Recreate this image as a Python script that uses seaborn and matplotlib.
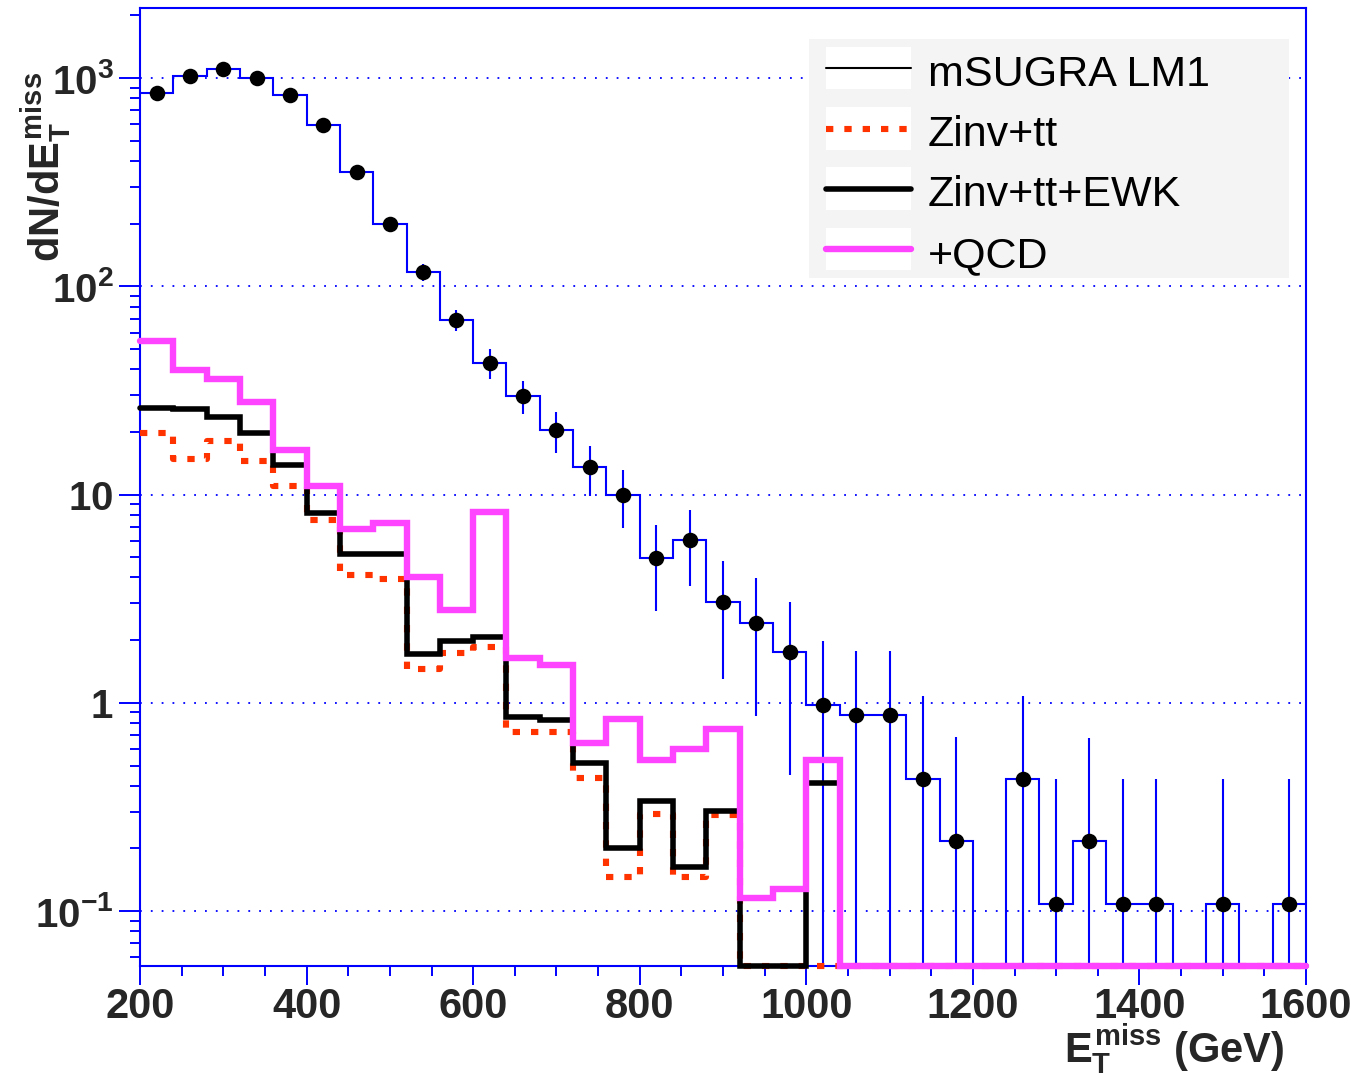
import numpy as np
import pandas as pd
import matplotlib
matplotlib.use("Agg")
import matplotlib.pyplot as plt
import seaborn as sns
from matplotlib.lines import Line2D
from matplotlib.patches import Rectangle
from matplotlib.ticker import LogLocator, NullFormatter, MultipleLocator, FixedLocator, FixedFormatter

# ---------------- data ----------------
bin_edges = list(range(200, 1601, 40))
bin_centers = np.array(bin_edges[:-1]) + 20

lm1_values = [851, 1022, 1105, 1000, 832, 597, 354, 200, 117, 69,
              42.9, 29.7, 20.4, 13.5, 10.0, 4.97, 6.03, 3.05, 2.41, 1.75,
              0.98, 0.87, 0.87, 0.433, 0.218, 0, 0.433, 0.108, 0.218, 0.108,
              0.108, 0, 0.108, 0, 0.108]
lm1_errors = [29, 32, 33, 32, 29, 24, 19, 14, 11, 8,
              7, 5.4, 4.6, 3.7, 3.1, 2.2, 2.4, 1.75, 1.55, 1.3,
              1.0, 0.9, 0.9, 0.65, 0.47, 0, 0.65, 0.325, 0.46, 0.325,
              0.325, 0, 0.325, 0, 0.325]
zinv_tt = [19.8, 14.8, 18.1, 14.5, 11.0, 7.55, 4.1, 3.92, 1.46, 1.74,
           1.86, 0.726, 0.726, 0.437, 0.146, 0.291, 0.146, 0.29, 0, 0,
           0, 0, 0, 0, 0, 0, 0, 0, 0, 0, 0, 0, 0, 0, 0]
zinv_tt_ewk = [26.1, 25.7, 23.6, 19.7, 13.9, 8.12, 5.18, 5.2, 1.71, 1.99,
               2.06, 0.857, 0.83, 0.512, 0.20, 0.339, 0.163, 0.303, 0, 0,
               0.41, 0, 0, 0, 0, 0, 0, 0, 0, 0, 0, 0, 0, 0, 0]
plus_qcd = [54.8, 39.6, 35.9, 27.8, 16.4, 11.0, 6.8, 7.3, 4.03, 2.78,
            8.25, 1.65, 1.52, 0.645, 0.84, 0.533, 0.60, 0.75, 0.115, 0.128,
            0.531, 0, 0, 0, 0, 0, 0, 0, 0, 0, 0, 0, 0, 0, 0]

legend_labels = ["mSUGRA LM1", "Zinv+tt", "Zinv+tt+EWK", "+QCD"]
y_tick_values = [0.1, 1, 10, 100, 1000]
y_tick_labels = [r"$10^{-1}$", r"$1$", r"$10$", r"$10^{2}$", r"$10^{3}$"]
x_tick_values = [200, 400, 600, 800, 1000, 1200, 1400, 1600]

# ---------------- style ----------------
sns.set_theme(style="white")
plt.rcParams["font.family"] = ["Liberation Sans", "DejaVu Sans"]
plt.rcParams["mathtext.fontset"] = "custom"
for k in ["rm", "it", "bf", "sf"]:
    plt.rcParams["mathtext." + k] = "Liberation Sans:bold"

BLUE = "#0000ff"
RED = "#ff3300"
MAGENTA = "#ff44ff"

W, H = 1365, 1073
fig = plt.figure(figsize=(W / 100, H / 100), dpi=100)
ax = fig.add_axes([140 / W, 1 - 966 / H, 1166 / W, 958 / H])

y_floor = 0.0545
y_top = 2170


def floor_zero(v):
    v = np.asarray(v, dtype=float)
    return np.where(v > 0, v, y_floor)


def step_hist(values, color, lw, zorder, **kw):
    df = pd.DataFrame({"met": bin_centers, "w": floor_zero(values)})
    sns.histplot(data=df, x="met", weights="w", bins=bin_edges, element="step",
                 fill=False, color=color, linewidth=lw, zorder=zorder,
                 clip_on=False, solid_joinstyle="miter", ax=ax, **kw)


# signal histogram
step_hist(lm1_values, BLUE, 1.5, 2)

vals = np.asarray(lm1_values, dtype=float)
errs = np.asarray(lm1_errors, dtype=float)
nz = vals > 0
lower = np.minimum(errs[nz], vals[nz] - y_floor)
ax.errorbar(bin_centers[nz], vals[nz], yerr=[lower, errs[nz]], fmt="none",
            ecolor=BLUE, elinewidth=1.5, capsize=0, zorder=2.1)
sns.scatterplot(x=bin_centers[nz], y=vals[nz], color="black", s=125,
                linewidth=0, zorder=2.6, ax=ax)

# backgrounds
step_hist(zinv_tt, RED, 4.4, 3, dashes=(1.2, 1.8), dash_capstyle="butt")
step_hist(zinv_tt_ewk, "black", 4.0, 3.5)
step_hist(plus_qcd, MAGENTA, 4.6, 4)

# ---------------- axes ----------------
ax.set_yscale("log")
ax.set_xlim(200, 1600)
ax.set_ylim(y_floor, y_top)

for s in ax.spines.values():
    s.set_color(BLUE)
    s.set_linewidth(1.5)

ax.xaxis.set_major_locator(FixedLocator(x_tick_values))
ax.xaxis.set_minor_locator(MultipleLocator(50))
ax.yaxis.set_major_locator(FixedLocator(y_tick_values))
ax.yaxis.set_major_formatter(FixedFormatter(y_tick_labels))
ax.yaxis.set_minor_locator(LogLocator(base=10, subs=np.arange(2, 10)))
ax.yaxis.set_minor_formatter(NullFormatter())

ax.tick_params(axis="x", which="major", direction="out", length=13.7, width=1.4,
               color=BLUE, labelsize=30, pad=1.5, bottom=True, top=False)
ax.tick_params(axis="x", which="minor", direction="out", length=7.2, width=1.4,
               color=BLUE, bottom=True, top=False)
ax.tick_params(axis="y", which="major", direction="out", length=15, width=1.4,
               color=BLUE, labelsize=29, pad=4, left=True, right=False)
ax.tick_params(axis="y", which="minor", direction="out", length=7.2, width=1.4,
               color=BLUE, left=True, right=False)
for lab in ax.get_xticklabels() + ax.get_yticklabels():
    lab.set_fontweight("bold")

ax.yaxis.grid(True, which="major", color=BLUE, linestyle=(0, (1, 5)), linewidth=1.3)
ax.xaxis.grid(False)

ax.set_xlabel(r"$E_{T}^{miss}$ (GeV)", fontsize=30, fontweight="bold", loc="right")
ax.xaxis.set_label_coords((1285 - 140) / 1166, (966 - 1022) / 958)
ax.set_ylabel(r"$dN/dE_{T}^{miss}$", fontsize=30, fontweight="bold", loc="top")
ax.yaxis.set_label_coords((73 - 140) / 1166, (966 - 72) / 958)

# ---------------- legend (drawn like the ROOT TLegend) ----------------
def fx(px):
    return px / W


def fy(py):
    return 1 - py / H


tf = fig.transFigure
ax.add_patch(Rectangle((fx(809), fy(278)), (1289 - 809) / W, (278 - 39) / H,
                       transform=tf, facecolor="#f4f4f4", edgecolor="none",
                       zorder=6, clip_on=False))
rows = [(47, 89), (107, 150), (167, 210), (228, 270)]
styles = [dict(color="black", lw=1.5),
          dict(color=RED, lw=4.4, dashes=(1.2, 1.8), dash_capstyle="butt"),
          dict(color="black", lw=4.0),
          dict(color=MAGENTA, lw=4.6)]
for (t, b), lab, st in zip(rows, legend_labels, styles):
    ax.add_patch(Rectangle((fx(826), fy(b)), (911 - 826) / W, (b - t) / H,
                           transform=tf, facecolor="white", edgecolor="none",
                           zorder=6.1, clip_on=False))
    yc = (t + b) / 2
    ax.add_line(Line2D([fx(826), fx(911)], [fy(yc), fy(yc)], transform=tf,
                       zorder=6.2, clip_on=False, **st))
    fig.text(fx(928), fy(yc + 18), lab, fontsize=31, va="baseline", ha="left",
             color="black", zorder=7)

fig.savefig("out.png", dpi=100)
